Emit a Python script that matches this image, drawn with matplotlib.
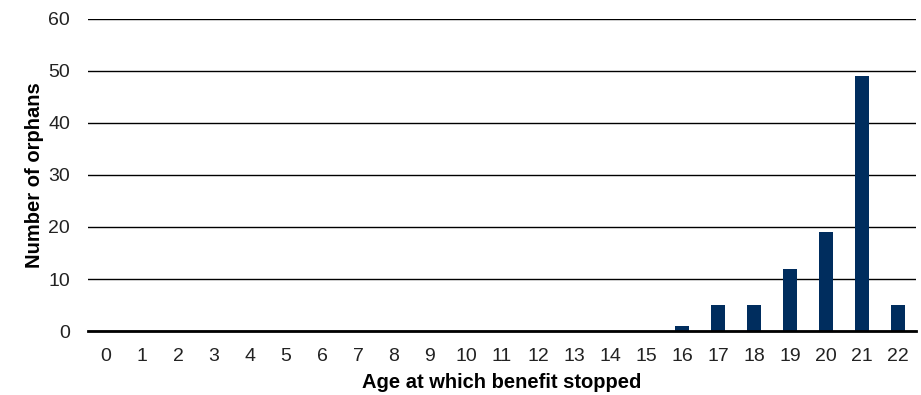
import matplotlib
matplotlib.use("Agg")
import matplotlib.pyplot as plt

plt.rcParams['font.family'] = ['Liberation Sans', 'DejaVu Sans']

ages = list(range(23))
age_labels = [str(a) for a in ages]
orphans = [0]*16 + [1, 5, 5, 12, 19, 49, 5]
yticks = [0, 10, 20, 30, 40, 50, 60]

fig = plt.figure(figsize=(9.21, 3.95), dpi=100)
ax = fig.add_axes([0.0955, 0.162, 0.899, 0.79])
ax.bar(ages, orphans, width=0.4, color='#002d5e', zorder=3)
ax.set_xlim(-0.5, 22.5)
ax.set_ylim(0, 60)
ax.set_yticks(yticks)
ax.set_xticks(ages)
ax.set_xticklabels(age_labels)
ax.yaxis.grid(True, color='black', linewidth=1.0, zorder=0)
for s in ['top', 'right', 'left']:
    ax.spines[s].set_visible(False)
ax.spines['bottom'].set_linewidth(2.0)
ax.spines['bottom'].set_zorder(4)
ax.tick_params(axis='both', length=0, labelsize=14, colors='#222222')
ax.tick_params(axis='y', pad=13)
ax.tick_params(axis='x', pad=12)
ax.set_xlabel('Age at which benefit stopped', fontsize=14.5, fontweight='bold', labelpad=6)
ax.set_ylabel('Number of orphans', fontsize=14.5, fontweight='bold', labelpad=3)
fig.savefig('out.png', dpi=100)
